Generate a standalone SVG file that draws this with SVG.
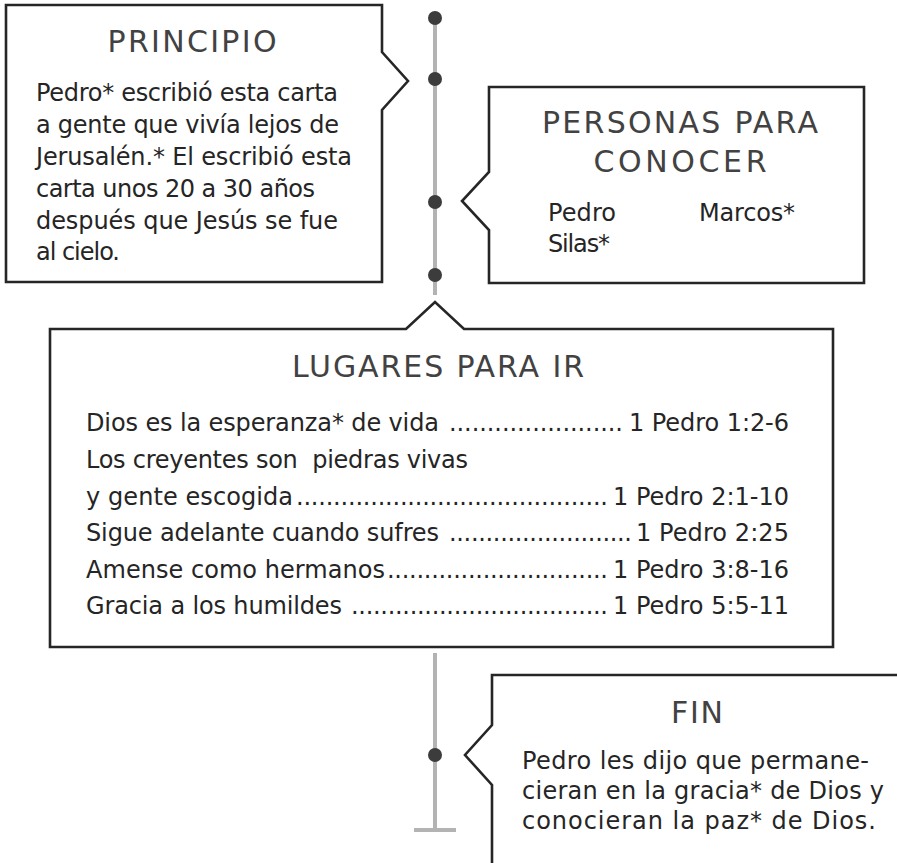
<svg xmlns="http://www.w3.org/2000/svg" width="897" height="863" viewBox="0 0 897 863">
  <style>
    .box { fill: #ffffff; stroke: #262626; stroke-width: 2.6; stroke-linejoin: miter; }
    .line { stroke: #b3b3b3; stroke-width: 4; fill: none; }
    .dot { fill: #3c3c3c; }
    .title { font-family: "DejaVu Sans", "Liberation Sans", sans-serif; font-size: 30px; fill: #424242; text-anchor: middle; }
    .body { font-family: "DejaVu Sans", "Liberation Sans", sans-serif; font-size: 24px; fill: #252525; white-space: pre; }
    .ref { text-anchor: end; }
  </style>
  <rect width="897" height="863" fill="#ffffff"/>

  <g id="connectors">
    <line class="line" x1="435" y1="18" x2="435" y2="295"/>
    <line class="line" x1="435" y1="653" x2="435" y2="830"/>
    <line class="line" x1="414" y1="830" x2="456" y2="830" stroke-width="5"/>
    <circle class="dot" cx="435" cy="18" r="7"/>
    <circle class="dot" cx="435" cy="79" r="7"/>
    <circle class="dot" cx="435" cy="202" r="7"/>
    <circle class="dot" cx="435" cy="275" r="7"/>
    <circle class="dot" cx="435" cy="755" r="7"/>
  </g>

  <g id="principio">
    <path class="box" d="M6 5 H382 V52 L408 81 L382 110 V282 H6 Z"/>
    <text class="title" x="192" y="52" textLength="169" lengthAdjust="spacing">PRINCIPIO</text>
    <text class="body" x="36" y="101" textLength="302" lengthAdjust="spacing">Pedro* escribió esta carta</text>
    <text class="body" x="36" y="133" textLength="303" lengthAdjust="spacing">a gente que vivía lejos de</text>
    <text class="body" x="36" y="165" textLength="316" lengthAdjust="spacing">Jerusalén.* El escribió esta</text>
    <text class="body" x="36" y="197" textLength="279" lengthAdjust="spacing">carta unos 20 a 30 años</text>
    <text class="body" x="36" y="229" textLength="302" lengthAdjust="spacing">después que Jesús se fue</text>
    <text class="body" x="36" y="260" textLength="84" lengthAdjust="spacing">al cielo.</text>
  </g>

  <g id="personas">
    <path class="box" d="M489 87 H864 V283 H489 V230 L462 201 L489 172 Z"/>
    <text class="title" x="680" y="133" textLength="276" lengthAdjust="spacing">PERSONAS PARA</text>
    <text class="title" x="680" y="172" textLength="173" lengthAdjust="spacing">CONOCER</text>
    <text class="body" x="548" y="221" textLength="68" lengthAdjust="spacing">Pedro</text>
    <text class="body" x="699" y="221" textLength="96" lengthAdjust="spacing">Marcos*</text>
    <text class="body" x="548" y="252" textLength="62" lengthAdjust="spacing">Silas*</text>
  </g>

  <g id="lugares">
    <path class="box" d="M50 329 H406 L435 302 L464 329 H833 V647 H50 Z"/>
    <text class="title" x="438" y="377" textLength="292" lengthAdjust="spacing">LUGARES PARA IR</text>

    <text class="body" x="86" y="431" textLength="353" lengthAdjust="spacing">Dios es la esperanza* de vida</text>
    <text class="body" x="449" y="431" textLength="174" lengthAdjust="spacing">.......................</text>
    <text class="body ref" x="789" y="431" textLength="160" lengthAdjust="spacing">1 Pedro 1:2-6</text>

    <text class="body" x="86" y="468" textLength="382" lengthAdjust="spacing">Los creyentes son  piedras vivas</text>

    <text class="body" x="86" y="505" textLength="207" lengthAdjust="spacing">y gente escogida</text>
    <text class="body" x="296" y="505" textLength="312" lengthAdjust="spacing">..........................................</text>
    <text class="body ref" x="789" y="505" textLength="176" lengthAdjust="spacing">1 Pedro 2:1-10</text>

    <text class="body" x="86" y="541" textLength="353" lengthAdjust="spacing">Sigue adelante cuando sufres</text>
    <text class="body" x="449" y="541" textLength="183" lengthAdjust="spacing">.........................</text>
    <text class="body ref" x="789" y="541" textLength="153" lengthAdjust="spacing">1 Pedro 2:25</text>

    <text class="body" x="86" y="578" textLength="299" lengthAdjust="spacing">Amense como hermanos</text>
    <text class="body" x="387" y="578" textLength="221" lengthAdjust="spacing">..............................</text>
    <text class="body ref" x="789" y="578" textLength="176" lengthAdjust="spacing">1 Pedro 3:8-16</text>

    <text class="body" x="86" y="614" textLength="256" lengthAdjust="spacing">Gracia a los humildes</text>
    <text class="body" x="351" y="614" textLength="257" lengthAdjust="spacing">...................................</text>
    <text class="body ref" x="789" y="614" textLength="176" lengthAdjust="spacing">1 Pedro 5:5-11</text>
  </g>

  <g id="fin">
    <path class="box" d="M900 675 H492 V725 L465 755 L492 785 V866"/>
    <text class="title" x="697" y="723" textLength="52" lengthAdjust="spacing">FIN</text>
    <text class="body" x="522" y="769" textLength="347" lengthAdjust="spacing">Pedro les dijo que permane-</text>
    <text class="body" x="522" y="799" textLength="362" lengthAdjust="spacing">cieran en la gracia* de Dios y</text>
    <text class="body" x="522" y="829" textLength="354" lengthAdjust="spacing">conocieran la paz* de Dios.</text>
  </g>
</svg>
